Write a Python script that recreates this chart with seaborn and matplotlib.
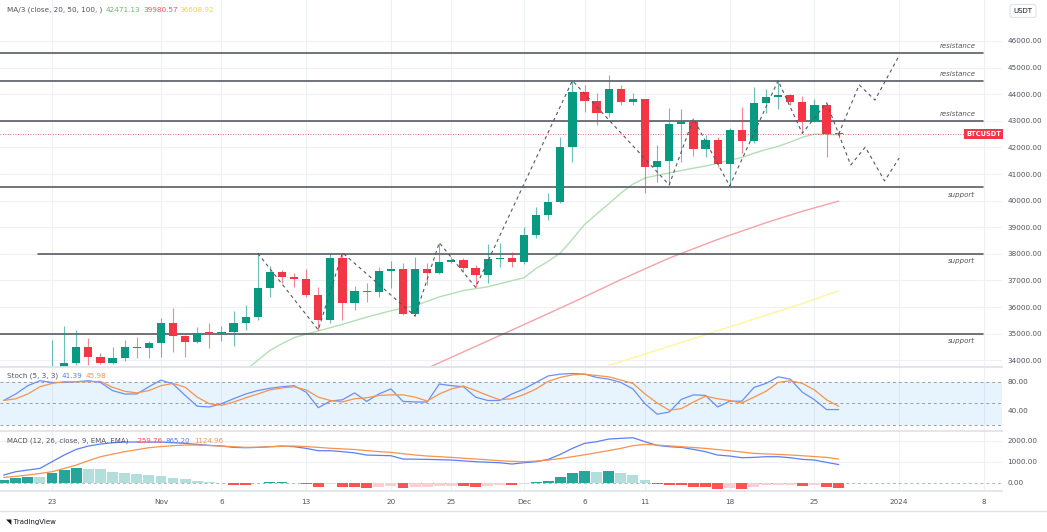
import matplotlib
matplotlib.use("Agg")
import matplotlib.pyplot as plt
import matplotlib.transforms as mtrans
import seaborn as sns
import pandas as pd

sns.set_theme(style="white")
plt.rcParams["font.family"] = ["DejaVu Sans"]

W, H = 1047, 532

# daily BTCUSDT candles, 23 Oct -> 27 Dec 2023 (day 0 = 23 Oct)
dates = pd.date_range("2023-10-23", "2023-12-27", freq="D")
opens = [29990, 33086, 33905, 34490, 34140, 33890, 34070, 34510, 34450, 34640,
         35410, 34920, 34700, 35060, 35010, 35050, 35390, 35630, 36700, 37300,
         37130, 37060, 36450, 35520, 37860, 36160, 36600, 36560, 37360, 37430,
         35720, 37420, 37290, 37710, 37780, 37460, 37220, 37800, 37840, 37710,
         38690, 39460, 39960, 42000, 44090, 43760, 43280, 44180, 43720, 43810,
         41250, 41500, 42880, 43010, 41930, 42280, 41380, 42660, 42250, 43680,
         43880, 43970, 43720, 43010, 43590, 42560]
highs = [34760, 35290, 35140, 34820, 34260, 34480, 34760, 34860, 34740, 35600,
         35980, 34940, 35260, 35390, 35290, 35860, 36080, 38020, 37540, 37400,
         37270, 37420, 36770, 37990, 38040, 36790, 36890, 37520, 37740, 37640,
         37870, 37670, 38420, 37890, 37850, 37580, 38370, 38420, 38080, 39020,
         39750, 40270, 42400, 44510, 44350, 44030, 44720, 44350, 44060, 43810,
         42090, 43470, 43430, 43100, 42470, 42380, 42720, 43510, 44260, 44180,
         44510, 43990, 43930, 43810, 43680, 42630]
lows = [29880, 32840, 33820, 33820, 33860, 33860, 33980, 34070, 34070, 34130,
        34320, 34130, 34640, 34450, 34740, 34540, 35140, 35510, 36390, 36890,
        36760, 36390, 35140, 35390, 35510, 35890, 36200, 36390, 36700, 35690,
        35660, 36830, 37260, 37640, 37330, 36740, 36890, 37520, 37520, 37620,
        38610, 39270, 39900, 41460, 43340, 42840, 43160, 43600, 43590, 40270,
        40710, 40590, 41460, 41680, 41650, 41280, 40550, 41800, 42150, 43310,
        43430, 43590, 42530, 42960, 41650, 42340]
closes = [33086, 33905, 34490, 34140, 33890, 34070, 34510, 34450, 34640, 35410,
          34920, 34700, 35040, 35010, 35050, 35390, 35630, 36700, 37300, 37130,
          37060, 36450, 35520, 37860, 36160, 36600, 36560, 37360, 37430, 35720,
          37420, 37290, 37710, 37780, 37460, 37220, 37800, 37840, 37710, 38690,
          39460, 39960, 42000, 44090, 43760, 43280, 44180, 43720, 43810, 41250,
          41500, 42880, 43010, 41930, 42280, 41380, 42660, 42250, 43680, 43880,
          43970, 43720, 43010, 43590, 42510, 42500]

# moving averages (day index, value)
ma20_days = [16, 17, 18, 19, 20, 21, 22, 24, 26, 28, 30, 32, 34, 36, 38, 39, 40, 41,
             42, 43, 44, 45, 46, 47, 48, 49, 50, 51, 52, 53, 54, 55, 56, 57, 58, 59,
             60, 61, 62, 63, 64, 65]
ma20_vals = [33620, 34000, 34370, 34620, 34850, 34980, 35100, 35350, 35620, 35860,
             36050, 36380, 36620, 36760, 36990, 37100, 37450, 37720, 38030, 38550,
             39100, 39500, 39880, 40280, 40620, 40850, 40950, 41040, 41130, 41220,
             41300, 41400, 41520, 41620, 41780, 41920, 42040, 42200, 42380, 42500,
             42490, 42471]
ma50_days = [31, 35, 39, 43, 47, 51, 55, 59, 62, 65]
ma50_vals = [33700, 34520, 35340, 36170, 37030, 37840, 38540, 39170, 39600, 39980]
ma100_days = [46, 50, 54, 58, 62, 65]
ma100_vals = [33800, 34380, 34960, 35550, 36130, 36609]

# hand-drawn zigzag / projections
zig_days = [17, 22, 24, 30, 32, 35, 43, 51, 53, 56, 60, 62, 64, 66, 67.2, 68.8, 70]
zig_prices = [38020, 35140, 38040, 35660, 38420, 36740, 44510, 40590, 43080, 40550,
              44510, 42530, 43680, 41340, 42010, 40740, 41600]
proj_days = [65, 66.7, 68, 70]
proj_prices = [42500, 44350, 43780, 45450]

resistance = [45540, 44500, 43000]
support = [40500, 38000, 35000]
support_start = [-4.3, -1.2, -4.3]

# indicators, day -4 .. 65
ind_days = list(range(-4, 66))
stoch_k = [54, 63, 74.5, 81.4, 79, 79, 80, 81.4, 79, 67.7,
           63, 63, 73, 82.3, 76.8, 61, 46, 45, 49.5, 56.4,
           63, 67.7, 70.9, 73, 74.5, 65.5, 44, 53.2, 55, 64.5,
           52.7, 63, 70, 52.7, 52, 51.8, 76.8, 74.5, 73, 58.6,
           54, 54, 63, 70, 79, 88, 90.5, 91.4, 90.5, 86,
           83.6, 79, 70, 49.5, 35, 38, 55.5, 61.8, 61, 45,
           53, 53, 72, 77.7, 86.8, 83.6, 65.5, 55, 41.4, 41.4]
stoch_d = [54, 56.4, 63, 73, 77.7, 80, 80, 80, 80.5, 72.3,
           66.8, 64.5, 67.7, 74.5, 77.7, 72.3, 58.6, 49.5, 47.3, 51.8,
           57.7, 63, 68.6, 71.4, 73, 68.6, 58.6, 54, 52, 56.4,
           57.7, 61, 61.8, 61.8, 58.6, 53.2, 63, 70, 74, 67.7,
           61, 55, 56.4, 62.3, 70, 80.5, 86, 89.5, 90.5, 88.6,
           86.8, 82.3, 77.7, 63, 50.5, 40.5, 42.7, 51.8, 60, 56.4,
           54, 50.5, 58.6, 66.8, 79, 81.4, 77.7, 68.6, 55, 46]
macd_line = [365, 524, 603, 682, 1000, 1317, 1587, 1746, 1841, 1904,
             1936, 1936, 1936, 1936, 1904, 1873, 1825, 1777, 1746, 1682,
             1666, 1682, 1714, 1746, 1714, 1635, 1523, 1523, 1476, 1420,
             1317, 1300, 1285, 1127, 1120, 1111, 1095, 1079, 1040, 1000,
             975, 952, 889, 952, 1000, 1111, 1349, 1635, 1873, 1952,
             2079, 2111, 2142, 1952, 1777, 1714, 1682, 1587, 1476, 1317,
             1270, 1190, 1206, 1238, 1238, 1190, 1111, 1079, 968, 865]
macd_signal = [254, 300, 365, 440, 524, 680, 841, 1047, 1238, 1360,
               1476, 1570, 1666, 1720, 1762, 1793, 1793, 1770, 1746, 1715,
               1682, 1690, 1714, 1730, 1746, 1720, 1682, 1640, 1610, 1580,
               1530, 1480, 1444, 1380, 1320, 1270, 1240, 1206, 1165, 1127,
               1090, 1047, 1020, 1000, 1030, 1079, 1150, 1238, 1330, 1428,
               1530, 1635, 1762, 1825, 1793, 1755, 1714, 1675, 1635, 1580,
               1523, 1460, 1397, 1370, 1349, 1320, 1285, 1245, 1206, 1125]
macd_hist = [127, 206, 254, 254, 444, 603, 690, 675, 635, 524,
             476, 413, 365, 317, 206, 159, 79, 32, -32, -95,
             -127, -32, 40, 48, 0, -79, -190, -63, -200, -215,
             -230, -190, -159, -270, -222, -190, -159, -143, -159, -190,
             -159, -111, -127, -63, 16, 79, 254, 444, 555, 500,
             540, 444, 365, 127, -63, -95, -100, -190, -195, -300,
             -270, -280, -190, -127, -95, -90, -143, -130, -190, -260]

tick_days = [0, 9, 14, 21, 28, 33, 39, 44, 49, 56, 63, 70, 77]
tick_labels = ["23", "Nov", "6", "13", "20", "25", "Dec", "6", "11", "18", "25", "2024", "8"]

# ---------------------------------------------------------------
df = pd.DataFrame({"date": dates, "open": opens, "high": highs, "low": lows, "close": closes})
df["day"] = (df["date"] - dates[0]).dt.days
ind = pd.DataFrame({"day": ind_days, "k": stoch_k, "d": stoch_d,
                    "macd": macd_line, "signal": macd_signal, "hist": macd_hist})

UP, DOWN = "#089981", "#f23645"
GRID = "#eef0f4"
TXT = "#50535e"
XMIN, XMAX = -4.3, 78.5


def fx(px):
    return px / W


def fy(py):
    return 1 - py / H


fig = plt.figure(figsize=(W / 100, H / 100), dpi=100)
fig.patch.set_facecolor("white")
ax = fig.add_axes([0, fy(367), fx(1002), (367) / H])
ax_st = fig.add_axes([0, fy(431), fx(1002), (431 - 367) / H])
ax_m = fig.add_axes([0, fy(491), fx(1002), (491 - 431) / H])

for a in (ax, ax_st, ax_m):
    a.set_xlim(XMIN, XMAX)
    for s in a.spines.values():
        s.set_visible(False)
    a.set_xticks(tick_days)
    a.grid(False)
    for t in tick_days:
        a.axvline(t, color=GRID, lw=0.8, zorder=0)
    a.yaxis.tick_right()
    a.tick_params(axis="y", length=0, pad=3.8, labelsize=5.2, labelcolor=TXT)
    a.tick_params(axis="x", length=0)
    a.set_xlabel("")
    a.set_ylabel("")

# ---- main price panel ----
ax.set_ylim(33746, 47541)
price_ticks = list(range(34000, 46001, 1000))
ax.set_yticks(price_ticks)
ax.set_yticklabels([f"{p:.2f}" for p in price_ticks])
ax.set_xticklabels([])
for p in price_ticks:
    ax.axhline(p, color=GRID, lw=0.8, zorder=0)

sns.lineplot(x=ma100_days, y=ma100_vals, ax=ax, color="#fff59d", lw=1.0, zorder=2)
sns.lineplot(x=ma50_days, y=ma50_vals, ax=ax, color="#f5a3a8", lw=1.0, zorder=2)
sns.lineplot(x=ma20_days, y=ma20_vals, ax=ax, color="#b5deb5", lw=1.0, zorder=2)

for lvl in resistance:
    ax.plot([XMIN, 76.9], [lvl, lvl], color="#4a4d57", lw=1.1, zorder=3)
    ax.annotate("resistance", (76.3, lvl), xytext=(0, 3), textcoords="offset points",
                ha="right", va="bottom", fontsize=5, style="italic", color="#555")
for lvl, x0 in zip(support, support_start):
    ax.plot([x0, 76.9], [lvl, lvl], color="#4a4d57", lw=1.1, zorder=3)
    ax.annotate("support", (76.3, lvl), xytext=(0, -3), textcoords="offset points",
                ha="right", va="top", fontsize=5, style="italic", color="#555")

# current price dotted line
ax.axhline(closes[-1], color=DOWN, lw=0.6, ls=(0, (1, 2)), zorder=2)

# candles
colors = [UP if c >= o else DOWN for o, c in zip(df["open"], df["close"])]
ax.vlines(df["day"], df["low"], df["high"], colors=colors, lw=0.8, alpha=0.6, zorder=4)
bottoms = [min(o, c) for o, c in zip(df["open"], df["close"])]
heights = [max(abs(c - o), 35) for o, c in zip(df["open"], df["close"])]
ax.bar(df["day"], heights, bottom=bottoms, width=0.68, color=colors, zorder=5, linewidth=0)

ax.plot(zig_days, zig_prices, color="#55585f", lw=0.8, ls=(0, (3, 3)), zorder=6)
ax.plot(proj_days, proj_prices, color="#55585f", lw=0.8, ls=(0, (3, 3)), zorder=6)

blend = mtrans.blended_transform_factory(ax.transAxes, ax.transData)
ax.text(0.999, closes[-1], "BTCUSDT", transform=blend, ha="right", va="center",
        fontsize=4.8, color="white", fontweight="bold", zorder=8,
        bbox=dict(boxstyle="square,pad=0.25", fc=DOWN, ec="none"))

# ---- stochastic panel ----
ax_st.set_ylim(11.7, 100.4)
ax_st.axhspan(20, 80, color="#2196f3", alpha=0.1, lw=0, zorder=0)
for lvl in (80, 50, 20):
    ax_st.axhline(lvl, color="#9a9da6", lw=0.7, ls=(0, (3, 3)), zorder=1)
ax_st.set_yticks([40, 80])
ax_st.set_yticklabels(["40.00", "80.00"])
ax_st.set_xticklabels([])
sns.lineplot(data=ind, x="day", y="k", ax=ax_st, color="#6b8ff8", lw=0.9, zorder=3)
sns.lineplot(data=ind, x="day", y="d", ax=ax_st, color="#f7934c", lw=0.9, zorder=3)
ax_st.set_xlabel("")
ax_st.set_ylabel("")
ax_st.spines["top"].set_visible(True)
ax_st.spines["top"].set_color("#e0e3eb")

# ---- MACD panel ----
ax_m.set_ylim(-395, 2462)
ax_m.set_yticks([0, 1000, 2000])
ax_m.set_yticklabels(["0.00", "1000.00", "2000.00"])
for lvl in (1000, 2000):
    ax_m.axhline(lvl, color=GRID, lw=0.8, zorder=0)
ax_m.axhline(0, color="#b2b5be", lw=0.7, ls=(0, (3, 3)), zorder=1)
hist_colors = []
prev = None
for v in macd_hist:
    if v >= 0:
        hist_colors.append("#26a69a" if prev is None or v > prev else "#b2dfdb")
    else:
        hist_colors.append("#ff5252" if prev is not None and v < prev else "#ffcdd2")
    prev = v
ax_m.bar(ind["day"], ind["hist"], width=0.9, color=hist_colors, lw=0, zorder=2)
sns.lineplot(data=ind, x="day", y="macd", ax=ax_m, color="#5b7ff8", lw=0.9, zorder=3)
sns.lineplot(data=ind, x="day", y="signal", ax=ax_m, color="#f7934c", lw=0.9, zorder=3)
ax_m.set_xlabel("")
ax_m.set_ylabel("")
ax_m.set_xticklabels(tick_labels)
ax_m.tick_params(axis="x", labelsize=5.2, labelcolor=TXT, pad=6)
ax_m.spines["top"].set_visible(True)
ax_m.spines["top"].set_color("#e0e3eb")
ax_m.spines["bottom"].set_visible(True)
ax_m.spines["bottom"].set_color("#e0e3eb")
ax.axhline(ax.get_ylim()[0], color="#e0e3eb", lw=1.0)

# bottom separator of the time axis
fig.add_artist(plt.Line2D([0, 1], [fy(511), fy(511)], color="#e0e3eb", lw=1.0))

# ---- legends ----
fs = 5.2
fig.text(fx(7), fy(10), "MA/3 (close, 20, 50, 100, )", fontsize=fs, color=TXT, va="center")
fig.text(fx(106), fy(10), "42471.13", fontsize=fs, color="#66bb6a", va="center")
fig.text(fx(143), fy(10), "39980.57", fontsize=fs, color="#f7525f", va="center")
fig.text(fx(179), fy(10), "36608.92", fontsize=fs, color="#f5d63d", va="center")

fig.text(fx(7), fy(376), "Stoch (5, 3, 3)", fontsize=fs, color=TXT, va="center")
fig.text(fx(62), fy(376), "41.39", fontsize=fs, color="#5b7ff8", va="center")
fig.text(fx(86), fy(376), "45.98", fontsize=fs, color="#f7934c", va="center")

fig.text(fx(7), fy(441), "MACD (12, 26, close, 9, EMA, EMA)", fontsize=5.0, color=TXT, va="center")
fig.text(fx(136), fy(441), "-259.76", fontsize=5.0, color="#ff5252", va="center")
fig.text(fx(166), fy(441), "865.20", fontsize=5.0, color="#5b7ff8", va="center")
fig.text(fx(194), fy(441), "1124.96", fontsize=5.0, color="#f7934c", va="center")

fig.text(fx(1023), fy(11), "USDT", fontsize=5, color="#131722", ha="center", va="center",
         bbox=dict(boxstyle="round,pad=0.5,rounding_size=0.3", fc="white", ec="#e0e3eb", lw=0.8))

fig.text(fx(6), fy(522), "\u25e5 TradingView", fontsize=5, color="#131722", va="center")

fig.savefig("out.png", dpi=100, facecolor="white")
